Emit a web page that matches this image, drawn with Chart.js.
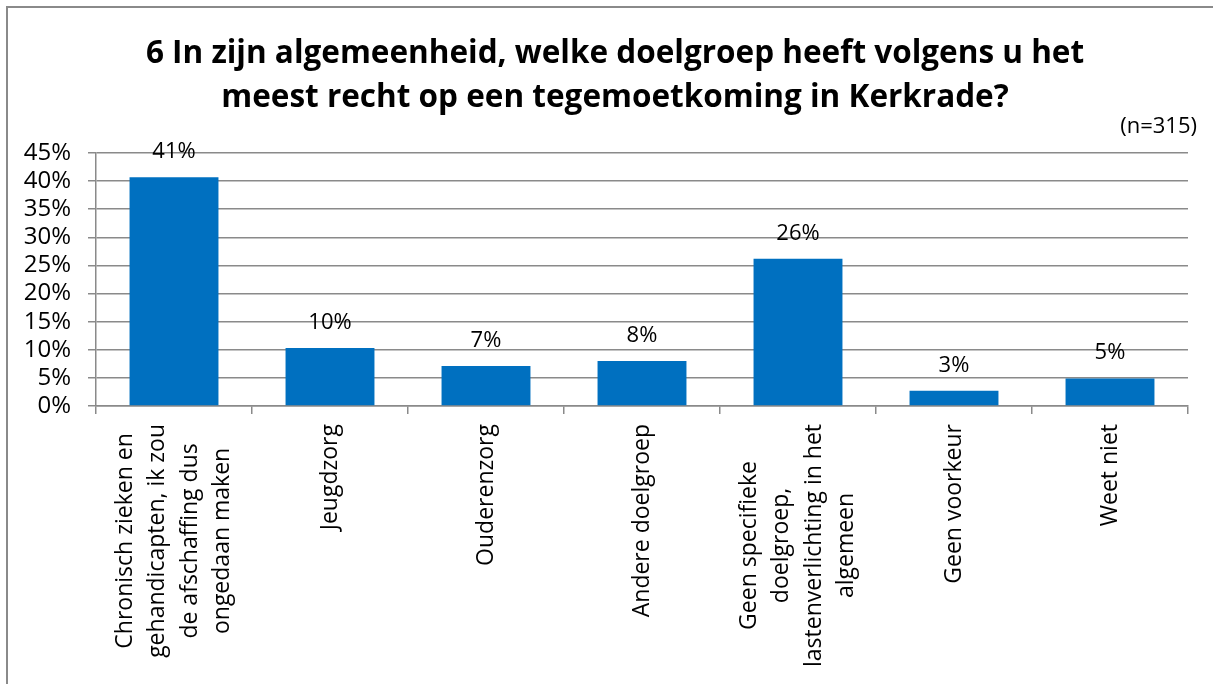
<!DOCTYPE html>
<html>
<head>
<meta charset="utf-8">
<script src="https://cdn.jsdelivr.net/npm/chart.js@4"></script>
<style>
  html, body { margin: 0; padding: 0; background: #fff; overflow: hidden; }
  #wrap { position: relative; width: 1213px; height: 684px; }
  #frame { position: absolute; left: 6px; top: 6px; width: 1300px; height: 800px; border: 2px solid #8a8a8a; box-sizing: border-box; }
  canvas { position: absolute; left: 0; top: 0; }
</style>
</head>
<body>
<div id="wrap">
  <div id="frame"></div>
  <canvas id="chart-targets"></canvas>
</div>
<script>
const titleLines = [
  '6 In zijn algemeenheid, welke doelgroep heeft volgens u het',
  'meest recht op een tegemoetkoming in Kerkrade?',
];
const sampleNote = '(n=315)';
const categories = [
  ['Chronisch zieken en', 'gehandicapten, ik zou', 'de afschaffing dus', 'ongedaan maken'],
  ['Jeugdzorg'],
  ['Ouderenzorg'],
  ['Andere doelgroep'],
  ['Geen specifieke', 'doelgroep,', 'lastenverlichting in het', 'algemeen'],
  ['Geen voorkeur'],
  ['Weet niet'],
];
const percentages = [40.7, 10.3, 7.1, 8.0, 26.2, 2.7, 4.9];
const yMax = 45;
const yStep = 5;

const BAR_COLOR = '#0070C0';
const GRID_COLOR = '#8a8a8a';
const FONT = '"Open Sans", "Noto Sans", sans-serif';

// title, rotated centred category labels, value labels and the n note
const textPlugin = {
  id: 'textPlugin',
  afterDraw(chart) {
    const { ctx, scales: { x } } = chart;
    ctx.save();
    ctx.fillStyle = '#000';

    ctx.font = `bold 31.5px ${FONT}`;
    ctx.textAlign = 'center';
    ctx.textBaseline = 'alphabetic';
    ctx.fillText(titleLines[0], 615, 63);
    ctx.fillText(titleLines[1], 615, 107);

    ctx.font = `23px ${FONT}`;
    ctx.textBaseline = 'middle';
    categories.forEach((lines, i) => {
      const cx = x.getPixelForValue(i);
      const longest = Math.max(...lines.map(l => ctx.measureText(l).width));
      ctx.save();
      ctx.translate(cx, x.top + 18);
      ctx.rotate(-Math.PI / 2);
      lines.forEach((l, j) => {
        ctx.fillText(l, -longest / 2, (j - (lines.length - 1) / 2) * 32.5);
      });
      ctx.restore();
    });

    ctx.font = `22px ${FONT}`;
    ctx.textBaseline = 'alphabetic';
    const meta = chart.getDatasetMeta(0);
    meta.data.forEach((bar, i) => {
      ctx.fillText(Math.round(percentages[i]) + '%', bar.x, bar.y - 19);
    });

    ctx.textAlign = 'right';
    ctx.fillText(sampleNote, chart.width - 16, 133);
    ctx.restore();
  },
};

new Chart(document.getElementById('chart-targets'), {
  type: 'bar',
  data: {
    labels: categories.map(c => c.join(' ')),
    datasets: [{
      data: percentages,
      backgroundColor: BAR_COLOR,
      borderWidth: 0,
      barPercentage: 0.57,
      categoryPercentage: 1,
    }],
  },
  options: {
    responsive: true,
    maintainAspectRatio: false,
    animation: false,
    layout: { padding: { left: 0, right: 25, top: 153, bottom: 0 } },
    plugins: {
      legend: { display: false },
      tooltip: { enabled: false },
    },
    scales: {
      x: {
        afterFit: s => { s.height = 278; },
        grid: { drawOnChartArea: false, drawTicks: true, tickLength: 8, offset: true, color: GRID_COLOR, lineWidth: 1.5 },
        border: { color: GRID_COLOR, width: 1.5 },
        ticks: { display: false },
      },
      y: {
        min: 0,
        max: yMax,
        afterFit: s => { s.width = 96; },
        grid: { color: GRID_COLOR, lineWidth: 1.5, tickLength: 8 },
        border: { color: GRID_COLOR, width: 1.5 },
        ticks: {
          stepSize: yStep,
          autoSkip: false,
          maxTicksLimit: 20,
          padding: 17,
          color: '#000',
          font: { family: FONT, size: 24, lineHeight: 1 },
          callback: v => v + '%',
        },
      },
    },
  },
  plugins: [textPlugin],
});
</script>
</body>
</html>
